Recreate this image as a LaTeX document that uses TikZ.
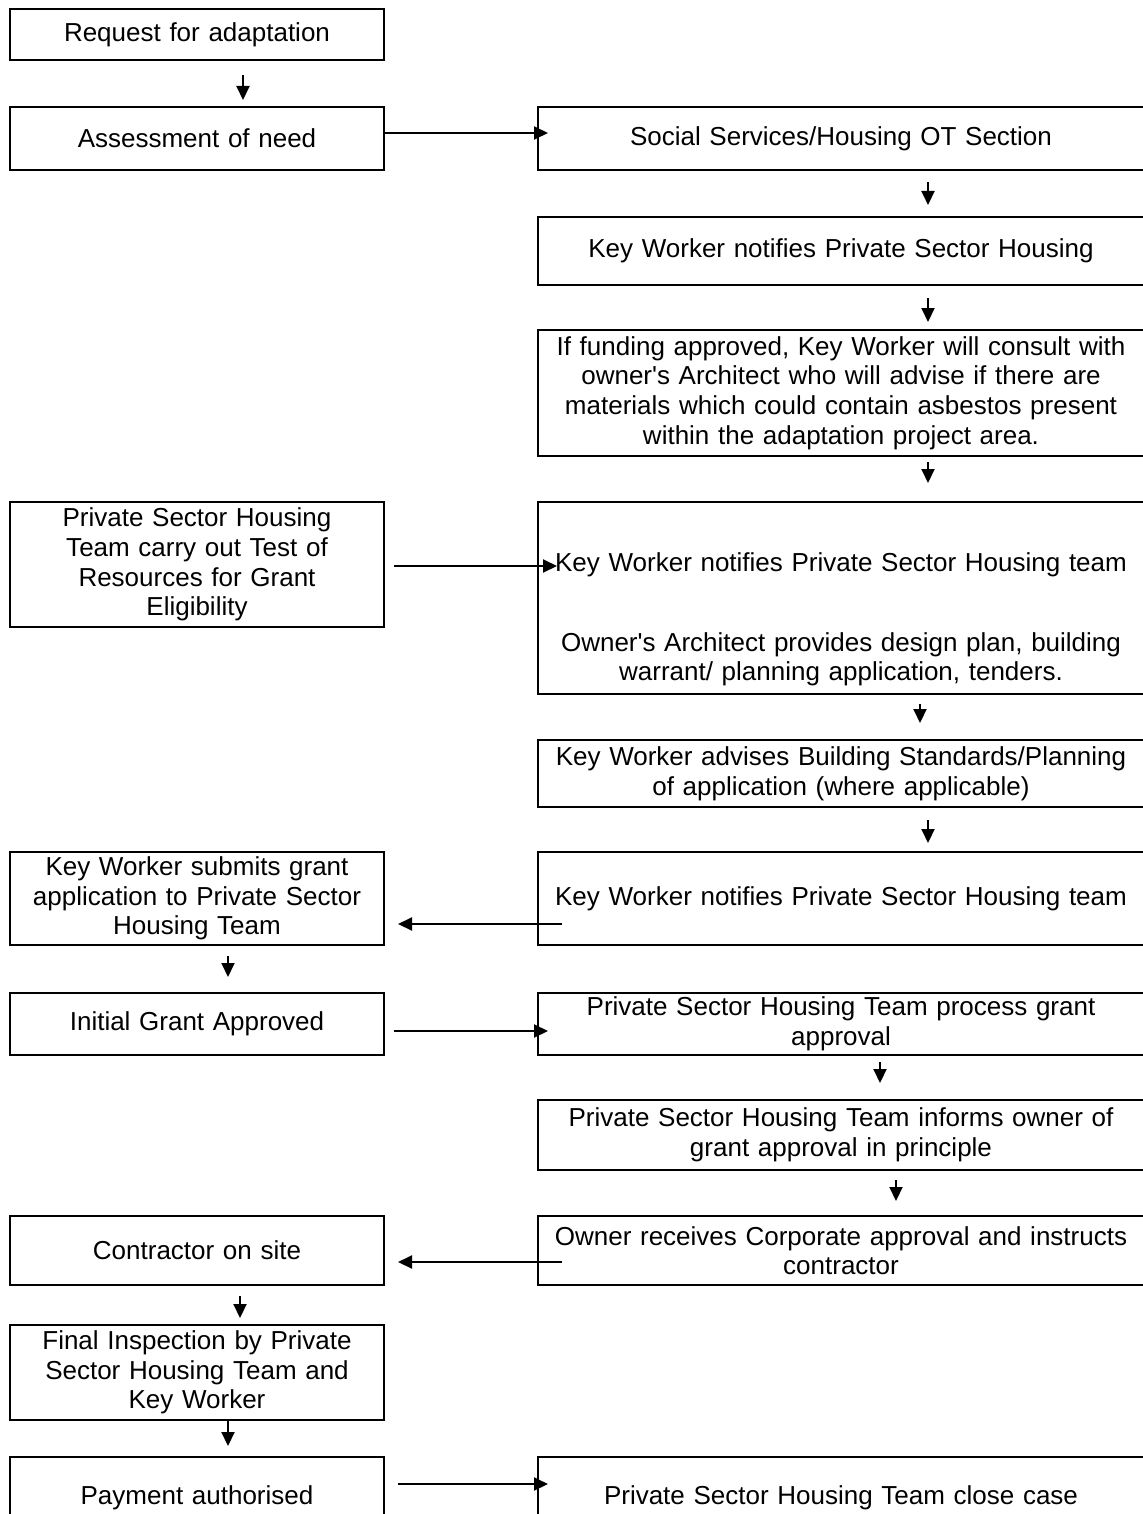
\documentclass[tikz,border=0pt]{standalone}
\usepackage{fontspec}
\setmainfont{Liberation Sans}[Ligatures=TeXOff]
\usepackage{tikz}
\usetikzlibrary{positioning, calc, arrows.meta}
\tikzstyle{box} = [draw, line width=1pt, inner sep=0pt, outer sep=0pt, align=center, font=\fontsize{13}{14.8}\selectfont]
\tikzstyle{lbox} = [box, minimum width=187pt, text width=182pt]
\tikzstyle{rbox} = [box, minimum width=303pt, text width=298pt]
\tikzstyle{flow} = [line width=1pt,-{Triangle[length=7pt,width=6.5pt]}]

\begin{document}
\begin{tikzpicture}[node distance=23pt]
    \useasboundingbox (0,0) rectangle (571.5pt,-757pt);
    \clip (0,0) rectangle (571.5pt,-757pt);
   	\node[lbox, minimum height=25.5pt, anchor=north west](req) at (5pt,-4.5pt) {Request for adaptation};
   	\node[lbox, minimum height=31.5pt](ass)[below=23.5pt of req]{Assessment of need};
   	\node[rbox, minimum height=31.5pt](ot)[right=77pt of ass]{Social Services/Housing OT Section};
   	\node[rbox, minimum height=34pt](kwn)[below=23.5pt of ot]{Key Worker notifies Private Sector Housing};
   	\node[rbox, minimum height=63pt](arch)[below=22.5pt of kwn]{If funding approved, Key Worker will consult with\\owner's Architect who will advise if there are\\materials which could contain asbestos present\\within the adaptation project area.};
   	\node[rbox, minimum height=96pt](kwpd)[below=23pt of arch]{\rule{0pt}{31pt}Key Worker notifies Private Sector Housing team\\[25pt]Owner's Architect provides design plan, building\\warrant/ planning application, tenders.};
   	\node[lbox, minimum height=62.5pt](tor)[left=77pt of kwpd.north west, anchor=north east]{Private Sector Housing\\Team carry out Test of\\Resources for Grant\\Eligibility};
   	\node[rbox, minimum height=33.5pt](kwa)[below=23pt of kwpd]{Key Worker advises Building Standards/Planning\\of application (where applicable)};
   	\node[rbox, minimum height=46.5pt](kwn2)[below=22.5pt of kwa]{Key Worker notifies Private Sector Housing team};
   	\node[lbox, minimum height=46.5pt](sub)[left=77pt of kwn2]{Key Worker submits grant\\application to Private Sector\\Housing Team};
   	\node[lbox, minimum height=31pt](init)[below=24pt of sub]{Initial Grant Approved};
   	\node[rbox, minimum height=31pt](proc)[right=77pt of init]{Private Sector Housing Team process grant\\approval};
   	\node[rbox, minimum height=35pt](inf)[below=22.5pt of proc]{Private Sector Housing Team informs owner of\\grant approval in principle};
   	\node[rbox, minimum height=34.5pt](own)[below=23pt of inf]{Owner receives Corporate approval and instructs\\contractor};
   	\node[lbox, minimum height=34.5pt](con)[left=77pt of own]{Contractor on site};
   	\node[lbox, minimum height=47.5pt](fin)[below=20pt of con]{Final Inspection by Private\\Sector Housing Team and\\Key Worker};
   	\node[lbox, minimum height=41pt](pay)[below=18.5pt of fin]{Payment authorised};
   	\node[rbox, minimum height=41pt](close)[right=77pt of pay]{Private Sector Housing Team close case};

    \draw[flow] ($(req.south)+(23pt,-7.5pt)$) -- ($(ass.north)+(23pt,3.5pt)$);
    \draw[flow] ($(ass.east)+(0,2.75pt)$) -- ($(ot.west)+(5pt,2.75pt)$);
    \draw[flow] ($(ot.south)+(43.5pt,-6pt)$) -- ($(kwn.north)+(43.5pt,6pt)$);
    \draw[flow] ($(kwn.south)+(43.5pt,-6.5pt)$) -- ($(arch.north)+(43.5pt,4pt)$);
    \draw[flow] ($(arch.south)+(43.5pt,-3pt)$) -- ($(kwpd.north)+(43.5pt,9.5pt)$);
    \draw[flow] ($(tor.east)+(5pt,-0.75pt)$) -- ($(tor.east -| kwpd.west)+(9.5pt,-0.75pt)$);
    \draw[flow] ($(kwpd.south)+(39.5pt,-5pt)$) -- ($(kwa.north)+(39.5pt,8.5pt)$);
    \draw[flow] ($(kwa.south)+(43.5pt,-6.5pt)$) -- ($(kwn2.north)+(43.5pt,4.5pt)$);
    \draw[flow] ($(kwn2.west)+(12pt,-12.75pt)$) -- ($(sub.east)+(7pt,-12.75pt)$);
    \draw[flow] ($(sub.south)+(15.5pt,-5.5pt)$) -- ($(init.north)+(15.5pt,8pt)$);
    \draw[flow] ($(init.east)+(5pt,-3.5pt)$) -- ($(proc.west)+(5pt,-3.5pt)$);
    \draw[flow] ($(proc.south)+(19.5pt,-3.5pt)$) -- ($(inf.north)+(19.5pt,8.5pt)$);
    \draw[flow] ($(inf.south)+(27.5pt,-5pt)$) -- ($(own.north)+(27.5pt,7.5pt)$);
    \draw[flow] ($(own.west)+(12pt,-5.75pt)$) -- ($(con.east)+(7pt,-5.75pt)$);
    \draw[flow] ($(con.south)+(21.5pt,-5.5pt)$) -- ($(fin.north)+(21.5pt,3.5pt)$);
    \draw[flow] (fin.south) ++(15.5pt,0) -- ($(pay.north)+(15.5pt,5.5pt)$);
    \draw[flow] ($(pay.north east)+(7pt,-13.5pt)$) -- ($(close.north west)+(5pt,-13.5pt)$);
\end{tikzpicture}
\end{document}
